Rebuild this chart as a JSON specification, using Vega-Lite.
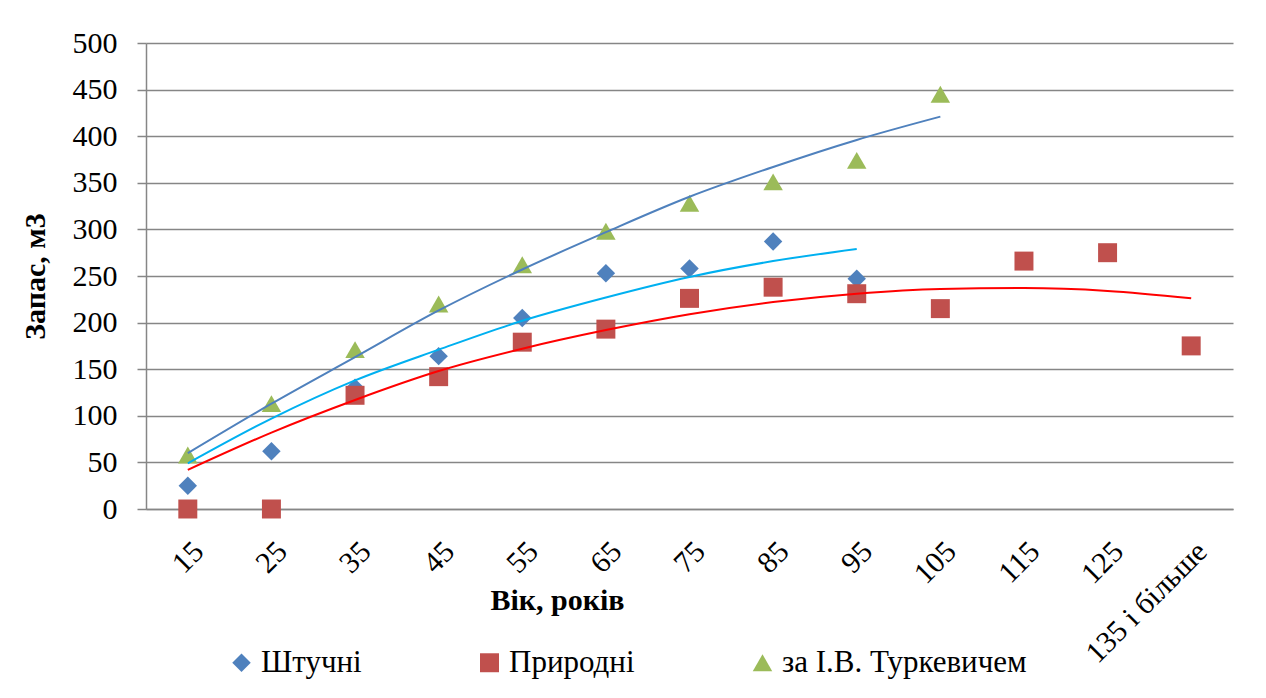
{
  "$schema": "https://vega.github.io/schema/vega-lite/v6.json",
  "width": 1087,
  "height": 466,
  "autosize": "none",
  "padding": {"left": 146, "top": 43, "right": 33, "bottom": 189},
  "background": "white",
  "config": {
    "font": "Liberation Serif",
    "view": {"stroke": null},
    "axis": {"labelFont": "Liberation Serif", "titleFont": "Liberation Serif", "labelColor": "#000000", "titleColor": "#000000"},
    "legend": {"labelFont": "Liberation Serif"}
  },
  "datasets": {
    "pts": [
      {"age": "15", "series": "Штучні", "v": 25},
      {"age": "25", "series": "Штучні", "v": 62},
      {"age": "35", "series": "Штучні", "v": 130},
      {"age": "45", "series": "Штучні", "v": 164},
      {"age": "55", "series": "Штучні", "v": 205},
      {"age": "65", "series": "Штучні", "v": 253},
      {"age": "75", "series": "Штучні", "v": 258},
      {"age": "85", "series": "Штучні", "v": 287},
      {"age": "95", "series": "Штучні", "v": 247},
      {"age": "15", "series": "Природні", "v": 0},
      {"age": "25", "series": "Природні", "v": 0},
      {"age": "35", "series": "Природні", "v": 122},
      {"age": "45", "series": "Природні", "v": 142},
      {"age": "55", "series": "Природні", "v": 179},
      {"age": "65", "series": "Природні", "v": 193},
      {"age": "75", "series": "Природні", "v": 226},
      {"age": "85", "series": "Природні", "v": 238},
      {"age": "95", "series": "Природні", "v": 231},
      {"age": "105", "series": "Природні", "v": 215},
      {"age": "115", "series": "Природні", "v": 266},
      {"age": "125", "series": "Природні", "v": 275},
      {"age": "135 і більше", "series": "Природні", "v": 175},
      {"age": "15", "series": "за І.В. Туркевичем", "v": 58},
      {"age": "25", "series": "за І.В. Туркевичем", "v": 113},
      {"age": "35", "series": "за І.В. Туркевичем", "v": 171},
      {"age": "45", "series": "за І.В. Туркевичем", "v": 220},
      {"age": "55", "series": "за І.В. Туркевичем", "v": 262},
      {"age": "65", "series": "за І.В. Туркевичем", "v": 298},
      {"age": "75", "series": "за І.В. Туркевичем", "v": 328},
      {"age": "85", "series": "за І.В. Туркевичем", "v": 351},
      {"age": "95", "series": "за І.В. Туркевичем", "v": 374},
      {"age": "105", "series": "за І.В. Туркевичем", "v": 445}
    ],
    "trends": [
      {"age": "15", "trend": "t_shtuchni", "v": 49},
      {"age": "25", "trend": "t_shtuchni", "v": 97},
      {"age": "35", "trend": "t_shtuchni", "v": 138},
      {"age": "45", "trend": "t_shtuchni", "v": 171},
      {"age": "55", "trend": "t_shtuchni", "v": 202},
      {"age": "65", "trend": "t_shtuchni", "v": 227},
      {"age": "75", "trend": "t_shtuchni", "v": 249},
      {"age": "85", "trend": "t_shtuchni", "v": 266},
      {"age": "95", "trend": "t_shtuchni", "v": 279},
      {"age": "15", "trend": "t_pryrodni", "v": 42},
      {"age": "25", "trend": "t_pryrodni", "v": 82},
      {"age": "35", "trend": "t_pryrodni", "v": 117},
      {"age": "45", "trend": "t_pryrodni", "v": 148},
      {"age": "55", "trend": "t_pryrodni", "v": 172},
      {"age": "65", "trend": "t_pryrodni", "v": 192},
      {"age": "75", "trend": "t_pryrodni", "v": 209},
      {"age": "85", "trend": "t_pryrodni", "v": 222},
      {"age": "95", "trend": "t_pryrodni", "v": 231},
      {"age": "105", "trend": "t_pryrodni", "v": 236},
      {"age": "115", "trend": "t_pryrodni", "v": 237},
      {"age": "125", "trend": "t_pryrodni", "v": 234},
      {"age": "135 і більше", "trend": "t_pryrodni", "v": 226},
      {"age": "15", "trend": "t_turk", "v": 60},
      {"age": "25", "trend": "t_turk", "v": 113},
      {"age": "35", "trend": "t_turk", "v": 163},
      {"age": "45", "trend": "t_turk", "v": 213},
      {"age": "55", "trend": "t_turk", "v": 257},
      {"age": "65", "trend": "t_turk", "v": 297},
      {"age": "75", "trend": "t_turk", "v": 335},
      {"age": "85", "trend": "t_turk", "v": 367},
      {"age": "95", "trend": "t_turk", "v": 396},
      {"age": "105", "trend": "t_turk", "v": 421}
    ]
  },
  "encoding": {
    "x": {
      "field": "age",
      "type": "ordinal",
      "sort": ["15", "25", "35", "45", "55", "65", "75", "85", "95", "105", "115", "125", "135 і більше"],
      "scale": {"type": "point", "padding": 0.5},
      "axis": {
        "title": "Вік, років",
        "titleFont": "Liberation Serif",
        "titleFontSize": 30,
        "titleFontWeight": "bold",
        "titleX": 411,
        "titleY": 76,
        "titleAnchor": null,
        "titleAlign": "center",
        "titleBaseline": "top",
        "labelFont": "Liberation Serif",
        "labelAngle": -45,
        "labelFontSize": 30,
        "labelPadding": 27,
        "labelDx": -22,
        "labelLimit": 400,
        "ticks": false,
        "domainColor": "#868686",
        "domainWidth": 1.5,
        "grid": false
      }
    },
    "y": {
      "field": "v",
      "type": "quantitative",
      "scale": {"domain": [0, 500], "nice": false},
      "axis": {
        "title": "Запас, м3",
        "titleFont": "Liberation Serif",
        "titleFontSize": 30,
        "titleFontWeight": "bold",
        "titlePadding": 22,
        "values": [0, 50, 100, 150, 200, 250, 300, 350, 400, 450, 500],
        "labelFont": "Liberation Serif",
        "labelFontSize": 30,
        "labelPadding": 20,
        "tickSize": 9,
        "tickColor": "#868686",
        "tickWidth": 1.5,
        "domainColor": "#868686",
        "domainWidth": 1.5,
        "gridColor": "#868686",
        "gridWidth": 1.5
      }
    }
  },
  "layer": [
    {
      "data": {"name": "pts"},
      "mark": {"type": "point", "filled": true, "opacity": 1},
      "encoding": {
        "color": {
          "field": "series",
          "type": "nominal",
          "scale": {"domain": ["Штучні", "Природні", "за І.В. Туркевичем"], "range": ["#4F81BD", "#C0504D", "#9BBB59"]},
          "legend": {
            "title": null,
            "orient": "none",
            "direction": "horizontal",
            "legendX": 80,
            "legendY": 604,
            "labelFont": "Liberation Serif",
            "labelFontSize": 31,
            "labelColor": "#000000",
            "labelLimit": 500,
            "symbolSize": 200,
            "symbolOpacity": 1,
            "columnPadding": 112,
            "labelOffset": 4
          }
        },
        "shape": {
          "field": "series",
          "type": "nominal",
          "scale": {"domain": ["Штучні", "Природні", "за І.В. Туркевичем"], "range": ["diamond", "square", "triangle-up"]}
        },
        "size": {
          "field": "series",
          "type": "nominal",
          "scale": {"domain": ["Штучні", "Природні", "за І.В. Туркевичем"], "range": [340, 380, 460]},
          "legend": null
        }
      }
    },
    {
      "data": {"name": "trends"},
      "mark": {"type": "line", "interpolate": "monotone", "strokeWidth": 2},
      "encoding": {
        "stroke": {
          "field": "trend",
          "type": "nominal",
          "scale": {"domain": ["t_shtuchni", "t_pryrodni", "t_turk"], "range": ["#00B0F0", "#FF0000", "#4F81BD"]},
          "legend": null
        }
      }
    }
  ]
}
